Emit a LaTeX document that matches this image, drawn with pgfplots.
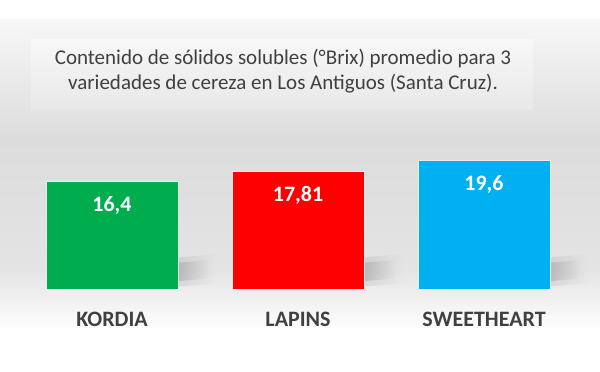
\documentclass[border=0pt]{standalone}
\usepackage{pgfplots}
\pgfplotsset{compat=1.18}
\usepackage{fontspec}
\setmainfont{Carlito}
\usetikzlibrary{fadings}
\definecolor{kgreen}{HTML}{00AD4E}
\definecolor{lred}{HTML}{FF0000}
\definecolor{sblue}{HTML}{00B0F0}
\definecolor{txt}{HTML}{404040}
\definecolor{bgA}{HTML}{F7F7F7}
\definecolor{bgB}{HTML}{DCDCDC}
\definecolor{bgC}{HTML}{E4E4E4}
\begin{document}
\begin{tikzpicture}[x=1pt,y=1pt]
% background (y from bottom; px from top = 372 - y)
\fill[white] (0,0) rectangle (600,372);
\shade[top color=bgA, bottom color=bgB] (0,232) rectangle (600,352);
\shade[top color=bgB, bottom color=bgC] (0,102) rectangle (600,232.2);
\shade[top color=bgC, bottom color=white] (0,40) rectangle (600,102.2);
% title box
\shade[top color=black!3, bottom color=black!9] (31,262) rectangle (533,332);
\node[text=txt, align=center, font=\fontsize{21}{25}\selectfont] at (283,301)
  {Contenido de sólidos solubles (°Brix) promedio para 3\\variedades de cereza en Los Antiguos (Santa Cruz).};
\begin{axis}[
  at={(19pt,83pt)}, anchor=south west,
  scale only axis, width=558pt, height=131.6pt,
  xmin=-0.5, xmax=2.5, ymin=0, ymax=20,
  axis line style={draw=none}, tick style={draw=none},
  ytick=\empty, xtick={0,1,2},
  xticklabels={KORDIA,LAPINS,SWEETHEART},
  xticklabel style={anchor=center, yshift=-26pt, text=txt, font=\fontsize{22}{26}\selectfont\bfseries},
  ybar, bar width=132pt, bar shift=0pt,
  clip=false,
  nodes near coords,
  point meta=explicit symbolic,
  every node near coord/.append style={anchor=center, yshift=-24pt, text=white, font=\fontsize{22}{26}\selectfont\bfseries},
]
\foreach \c in {0,1,2} {
  \edef\tmp{\noexpand\fill[black, opacity=0.08, path fading=east]
    (axis cs:\c+0.355,0.4) -- (axis cs:\c+0.355,4.8) -- (axis cs:\c+0.56,5.3) -- (axis cs:\c+0.56,0.8) -- cycle;
    \noexpand\fill[black, opacity=0.12, path fading=east]
    (axis cs:\c+0.355,1.2) -- (axis cs:\c+0.355,4.0) -- (axis cs:\c+0.52,4.4) -- (axis cs:\c+0.52,1.6) -- cycle;}
  \tmp
}
\addplot[fill=kgreen, draw=black!8, line width=0.8pt] coordinates {(0,16.4) [16,4]};
\addplot[fill=lred, draw=black!8, line width=0.8pt] coordinates {(1,17.81) [17,81]};
\addplot[fill=sblue, draw=black!8, line width=0.8pt] coordinates {(2,19.6) [19,6]};
\end{axis}
\end{tikzpicture}
\end{document}
